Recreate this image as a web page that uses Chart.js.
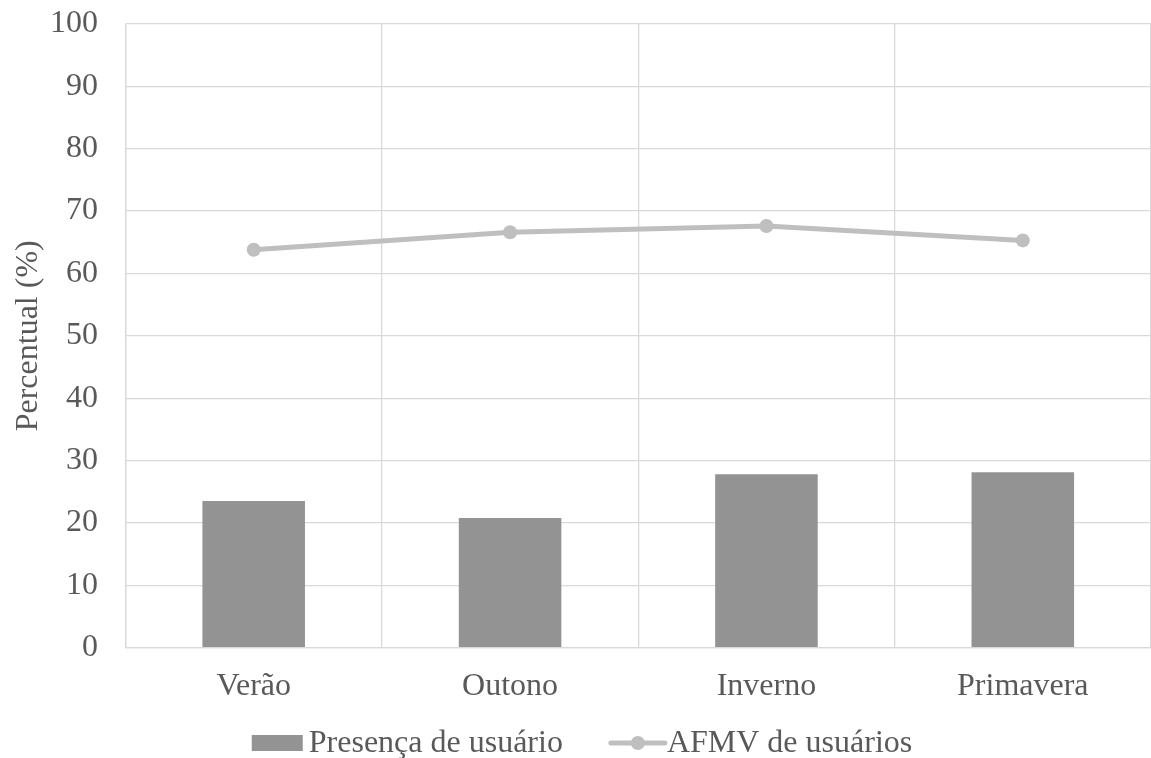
<!DOCTYPE html>
<html lang="pt">
<head>
<meta charset="utf-8">
<title>Percentual por estação</title>
<script src="https://cdn.jsdelivr.net/npm/chart.js@4/dist/chart.umd.min.js"></script>
<style>
  html, body { margin: 0; padding: 0; background: #ffffff; overflow: hidden; }
  /* a área do gráfico vai até a borda direita da janela */
  #wrap { position: relative; width: 1158px; height: 758px; }
</style>
</head>
<body>
<div id="wrap"><canvas id="grafico"></canvas></div>
<script>
// Estações do ano (eixo X)
const categorias = ['Verão', 'Outono', 'Inverno', 'Primavera'];
// Presença de usuário (%) – colunas
const presencaUsuario = [23.5, 20.8, 27.8, 28.1];
// AFMV de usuários (%) – linha
const afmvUsuarios = [63.8, 66.6, 67.6, 65.3];
// Eixo Y
const yMin = 0, yMax = 100, yPasso = 10;
const tituloY = 'Percentual (%)';
const nomesSeries = ['Presença de usuário', 'AFMV de usuários'];

const FONTE = '"Liberation Serif", "Times New Roman", serif';
const TAM = 32;
const COR_TEXTO = '#595959';
const COR_GRADE = '#D9D9D9';

// Legenda desenhada abaixo do gráfico, com os estilos de cada série
const legendaInferior = {
  id: 'legendaInferior',
  afterDraw(chart) {
    const ctx = chart.ctx;
    const barra = chart.data.datasets.find(d => d.type === 'bar');
    const linha = chart.data.datasets.find(d => d.type === 'line');
    ctx.save();
    ctx.font = TAM + 'px ' + FONTE;
    ctx.textBaseline = 'middle';
    const y = 743;
    const caixaL = 51, caixaA = 16, gap1 = 6, gapItens = 46, linhaL = 58;
    const w0 = ctx.measureText(barra.label).width;
    const w1 = ctx.measureText(linha.label).width;
    const total = caixaL + gap1 + w0 + gapItens + linhaL + w1;
    let x = 582 - total / 2;
    // coluna
    ctx.fillStyle = barra.backgroundColor;
    ctx.fillRect(x, y - caixaA / 2, caixaL, caixaA);
    x += caixaL + gap1;
    ctx.fillStyle = COR_TEXTO;
    ctx.fillText(barra.label, x, y + 1);
    x += w0 + gapItens;
    // linha com marcador
    ctx.strokeStyle = linha.borderColor;
    ctx.lineWidth = linha.borderWidth;
    ctx.lineCap = 'round';
    ctx.beginPath();
    ctx.moveTo(x + 2, y);
    ctx.lineTo(x + linhaL - 2, y);
    ctx.stroke();
    ctx.fillStyle = linha.pointBackgroundColor;
    ctx.beginPath();
    ctx.arc(x + linhaL / 2, y, linha.pointRadius, 0, Math.PI * 2);
    ctx.fill();
    x += linhaL;
    ctx.fillStyle = COR_TEXTO;
    ctx.fillText(linha.label, x, y + 1);
    ctx.restore();
  }
};

new Chart(document.getElementById('grafico'), {
  data: {
    labels: categorias,
    datasets: [
      {
        type: 'line',
        label: nomesSeries[1],
        data: afmvUsuarios,
        borderColor: '#BFBFBF',
        backgroundColor: '#BFBFBF',
        borderWidth: 5,
        pointRadius: 7,
        pointHoverRadius: 7,
        pointBackgroundColor: '#BFBFBF',
        pointBorderColor: '#BFBFBF',
        pointBorderWidth: 0,
        tension: 0,
        order: 0
      },
      {
        type: 'bar',
        label: nomesSeries[0],
        data: presencaUsuario,
        backgroundColor: '#939393',
        borderWidth: 0,
        categoryPercentage: 1,
        barPercentage: 0.4,
        order: 1
      }
    ]
  },
  options: {
    responsive: true,
    maintainAspectRatio: false,
    animation: false,
    devicePixelRatio: 1,
    layout: { padding: { top: 0, left: 5, right: 0, bottom: 33 } },
    plugins: {
      legend: { display: false },
      tooltip: { enabled: false }
    },
    scales: {
      x: {
        grid: { color: COR_GRADE, lineWidth: 1.3, drawTicks: false, offset: true },
        border: { display: true, color: COR_GRADE, width: 1.3 },
        ticks: { color: COR_TEXTO, font: { family: FONTE, size: TAM }, padding: 19.5, maxRotation: 0 },
        afterFit(scale) { scale.paddingLeft = 0; scale.paddingRight = 0; }
      },
      y: {
        min: yMin,
        max: yMax,
        grid: { color: COR_GRADE, lineWidth: 1.3, drawTicks: false },
        border: { display: true, color: COR_GRADE, width: 1.3 },
        ticks: { stepSize: yPasso, color: COR_TEXTO, font: { family: FONTE, size: TAM }, padding: 27.5 },
        title: {
          display: true,
          text: tituloY,
          color: COR_TEXTO,
          font: { family: FONTE, size: TAM, weight: 'normal' },
          padding: { top: 4, bottom: 4 }
        },
        afterFit(scale) {
          scale.width = 120.5;
          scale.paddingTop = 24;
          scale.paddingBottom = 0;
          scale.paddingLeft = 0;
          scale.paddingRight = 0;
        }
      }
    }
  },
  plugins: [legendaInferior]
});
</script>
</body>
</html>
